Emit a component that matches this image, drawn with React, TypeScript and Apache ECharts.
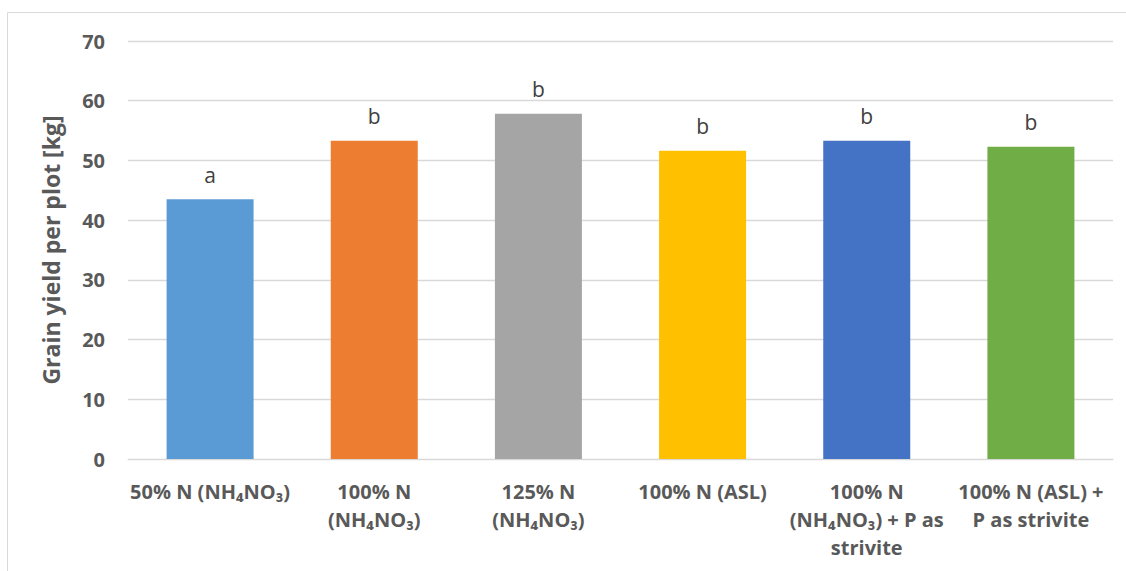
import React, { useEffect, useRef } from "react";
import * as echarts from "echarts";

const categories = [
  "50% N (NH₄NO₃)",
  "100% N\n(NH₄NO₃)",
  "125% N\n(NH₄NO₃)",
  "100% N (ASL)",
  "100% N\n(NH₄NO₃) + P as\nstrivite",
  "100% N (ASL) +\nP as strivite",
];
const values = [43.5, 53.3, 57.8, 51.6, 53.3, 52.3];
const letters = ["a", "b", "b", "b", "b", "b"];
const colors = ["#5B9BD5", "#ED7D31", "#A5A5A5", "#FFC000", "#4472C4", "#70AD47"];
const yTicks = [0, 10, 20, 30, 40, 50, 60, 70];

const FONT = "'Open Sans', 'Liberation Sans', sans-serif";

export default function App() {
  const ref = useRef<HTMLDivElement>(null);
  useEffect(() => {
    if (!ref.current) return;
    const chart = echarts.init(ref.current, null, { renderer: "svg" });
    chart.setOption({
      animation: false,
      backgroundColor: "#ffffff",
      graphic: [
        {
          type: "rect",
          shape: { x: 7.5, y: 12.5, width: 1200, height: 700 },
          style: { fill: "none", stroke: "#d9d9d9", lineWidth: 1 },
          silent: true,
        },
      ],
      grid: { left: 128, right: 13, top: 41, bottom: 112, containLabel: false },
      xAxis: {
        type: "category",
        data: categories,
        axisLine: { show: true, lineStyle: { color: "#d9d9d9", width: 1 } },
        axisTick: { show: false },
        axisLabel: {
          interval: 0,
          margin: 18,
          color: "#595959",
          fontFamily: FONT,
          fontWeight: "bold",
          fontSize: 20,
          lineHeight: 28,
        },
      },
      yAxis: {
        type: "value",
        min: yTicks[0],
        max: yTicks[yTicks.length - 1],
        interval: 10,
        name: "Grain yield per plot [kg]",
        nameLocation: "middle",
        nameGap: 66,
        nameRotate: 90,
        nameTextStyle: {
          color: "#595959",
          fontFamily: FONT,
          fontWeight: "bold",
          fontSize: 23,
        },
        axisLine: { show: false },
        axisTick: { show: false },
        splitLine: { lineStyle: { color: "#d9d9d9", width: 1.3 } },
        axisLabel: {
          margin: 23,
          color: "#595959",
          fontFamily: FONT,
          fontWeight: "bold",
          fontSize: 20,
        },
      },
      series: [
        {
          type: "bar",
          barWidth: 87,
          data: values.map((v, i) => ({
            value: v,
            itemStyle: { color: colors[i] },
            label: {
              show: true,
              position: "top",
              distance: 14,
              formatter: letters[i],
              color: "#404040",
              fontFamily: FONT,
              fontSize: 21,
            },
          })),
        },
      ],
    });
    return () => chart.dispose();
  }, []);
  return (
    <div
      ref={ref}
      style={{ position: "absolute", left: 0, top: 0, width: 1126, height: 571 }}
    />
  );
}
